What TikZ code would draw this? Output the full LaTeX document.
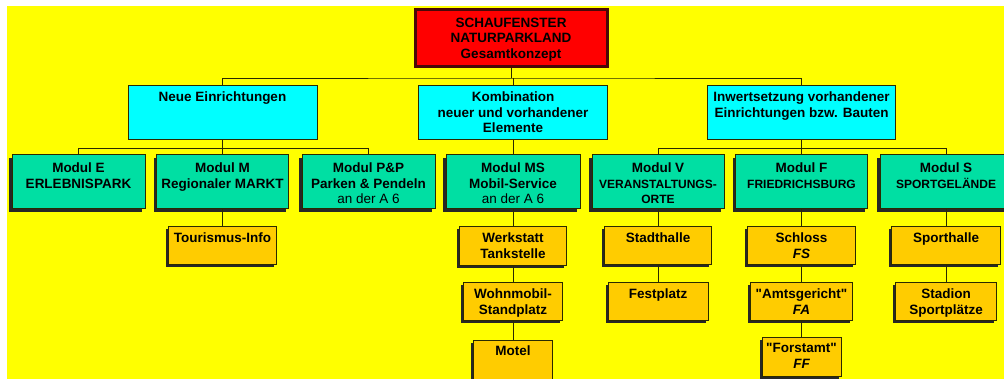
\documentclass[tikz,border=0pt]{standalone}
\usepackage{fontspec}
\setmainfont{Liberation Sans}[Ligatures=TeXOff]
\usetikzlibrary{shadows,calc}
\definecolor{BgYellow}{HTML}{FFFF00}
\definecolor{RootRed}{HTML}{FF0000}
\definecolor{RootRim}{HTML}{4A0808}
\definecolor{GroupCyan}{HTML}{00FFFF}
\definecolor{ModulGreen}{HTML}{00DFA3}
\definecolor{SubOrange}{HTML}{FFCC00}
\definecolor{LineDark}{HTML}{2A2A00}
\newcommand{\chartfont}{\fontsize{13.5}{15.6}\selectfont\bfseries}
\newcommand{\capsfont}{\fontsize{12}{15.6}\selectfont\bfseries}
\tikzset{
    chartbox/.style = {draw=LineDark, rectangle, inner sep=0pt, minimum height=38pt},
    rootbox/.style = {chartbox, fill=RootRed, draw=RootRim, line width=3pt,
        drop shadow={shadow xshift=1.5pt, shadow yshift=-1.5pt, fill=black, opacity=1}},
    groupbox/.style = {chartbox, fill=GroupCyan, line width=0.9pt, minimum height=54pt},
    modulbox/.style = {chartbox, fill=ModulGreen, line width=1pt, minimum height=54pt,
        drop shadow={shadow xshift=-3pt, shadow yshift=-3pt, fill=black!85, opacity=1}},
    subbox/.style = {chartbox, fill=SubOrange, line width=1pt,
        drop shadow={shadow xshift=-2.5pt, shadow yshift=-2.5pt, fill=black!85, opacity=1}},
    txt/.style = {anchor=north, align=center, inner sep=0pt, font=\chartfont},
    conn/.style = {draw=LineDark, line width=0.9pt}
}
\begin{document}
\begin{tikzpicture}[x=1pt,y=-1pt]
    \useasboundingbox (0,0) rectangle (1004,379);
    \clip (0,0) rectangle (1004,379);
    \fill[BgYellow] (7,6) rectangle (1004,379);
    % top and the three groups
    \node[rootbox, minimum width=192pt, minimum height=57pt,
        label={[txt,yshift=-9.5pt]north:{SCHAUFENSTER\\NATURPARKLAND\\Gesamtkonzept}}] (root) at (511,38) {};
    \node[groupbox, minimum width=189pt, label={[txt,yshift=-7pt]north:{Neue Einrichtungen}}] (neue) at (222.5,112) {};
    \node[groupbox, minimum width=189pt, label={[txt,yshift=-7pt]north:{Kombination\\neuer und vorhandener\\Elemente}}] (kombi) at (513,112) {};
    \node[groupbox, minimum width=188pt, label={[txt,yshift=-7pt]north:{Inwertsetzung vorhandener\\Einrichtungen bzw. Bauten}}] (inwert) at (801.5,112) {};
    % modules
    \node[modulbox, minimum width=133pt, label={[txt,yshift=-8pt]north:{Modul E\\ERLEBNISPARK}}] (modE) at (78.5,182) {};
    \node[modulbox, minimum width=132pt, label={[txt,yshift=-8pt]north:{Modul M\\Regionaler MARKT}}] (modM) at (222.5,182) {};
    \node[modulbox, minimum width=133pt, label={[txt,yshift=-8pt]north:{Modul P\&P\\Parken \& Pendeln\\{\mdseries an der A 6}}}] (modP) at (368.5,182) {};
    \node[modulbox, minimum width=134pt, label={[txt,yshift=-8pt]north:{Modul MS\\Mobil-Service\\{\mdseries an der A 6}}}] (modMS) at (513,182) {};
    \node[modulbox, minimum width=132pt, label={[txt,yshift=-8pt]north:{Modul V\\{\capsfont VERANSTALTUNGS-}\\{\capsfont ORTE}}}] (modV) at (658,182) {};
    \node[modulbox, minimum width=132pt, label={[txt,yshift=-8pt]north:{Modul F\\{\capsfont FRIEDRICHSBURG}}}] (modF) at (801.5,182) {};
    \node[modulbox, minimum width=132pt, label={[txt,yshift=-8pt]north:{Modul S\\{\capsfont SPORTGEL\"ANDE}}}] (modS) at (946,182) {};
    % sub boxes
    \node[subbox, minimum width=108pt, label={[txt,yshift=-6pt]north:{Tourismus-Info}}] (tour) at (222.5,246) {};
    \node[subbox, minimum width=107pt, minimum height=39pt, label={[txt,yshift=-6pt]north:{Werkstatt\\Tankstelle}}] (werk) at (513,246.5) {};
    \node[subbox, minimum width=99pt, label={[txt,yshift=-6pt]north:{Wohnmobil-\\Standplatz}}] (wohn) at (513,302) {};
    \node[subbox, minimum width=79pt, minimum height=40pt, label={[txt,yshift=-6pt]north:{Motel}}] (motel) at (513,360) {};
    \node[subbox, minimum width=107pt, label={[txt,yshift=-6pt]north:{Stadthalle}}] (stadt) at (658,246) {};
    \node[subbox, minimum width=100pt, label={[txt,yshift=-6pt]north:{Festplatz}}] (fest) at (658,302) {};
    \node[subbox, minimum width=108pt, label={[txt,yshift=-6pt]north:{Schloss\\{\itshape FS}}}] (schloss) at (801.5,246) {};
    \node[subbox, minimum width=102pt, label={[txt,yshift=-6pt]north:{"Amtsgericht"\\{\itshape FA}}}] (amts) at (801.5,302) {};
    \node[subbox, minimum width=79pt, minimum height=39pt, label={[txt,yshift=-6pt]north:{"Forstamt"\\{\itshape FF}}}] (forst) at (801.5,357) {};
    \node[subbox, minimum width=109pt, label={[txt,yshift=-6pt]north:{Sporthalle}}] (sport) at (946,246) {};
    \node[subbox, minimum width=101pt, label={[txt,yshift=-6pt]north:{Stadion\\Sportpl\"atze}}] (stadion) at (946,302) {};
    % connectors
    \coordinate (topbus) at ($(root.south)+(0,10)$);
    \draw[conn] (root.south) -- (topbus);
    \draw[conn] (neue.north) |- (topbus) -| (inwert.north);
    \draw[conn] (topbus -| kombi.north) -- (kombi.north);
    \draw[conn] (neue.south) -- (modM.north);
    \draw[conn] (modE.north) |- ($(neue.south)+(0,9)$) -| (modP.north);
    \draw[conn] (kombi.south) -- (modMS.north);
    \draw[conn] (inwert.south) -- (modF.north);
    \draw[conn] (modV.north) |- ($(inwert.south)+(0,9)$) -| (modS.north);
    \draw[conn] (modM.south) -- (tour.north);
    \draw[conn] (modMS.south) -- (werk.north);
    \draw[conn] (werk.south) -- (wohn.north);
    \draw[conn] (wohn.south) -- (motel.north);
    \draw[conn] (modV.south) -- (stadt.north);
    \draw[conn] (stadt.south) -- (fest.north);
    \draw[conn] (modF.south) -- (schloss.north);
    \draw[conn] (schloss.south) -- (amts.north);
    \draw[conn] (amts.south) -- (forst.north);
    \draw[conn] (modS.south) -- (sport.north);
    \draw[conn] (sport.south) -- (stadion.north);
\end{tikzpicture}
\end{document}
